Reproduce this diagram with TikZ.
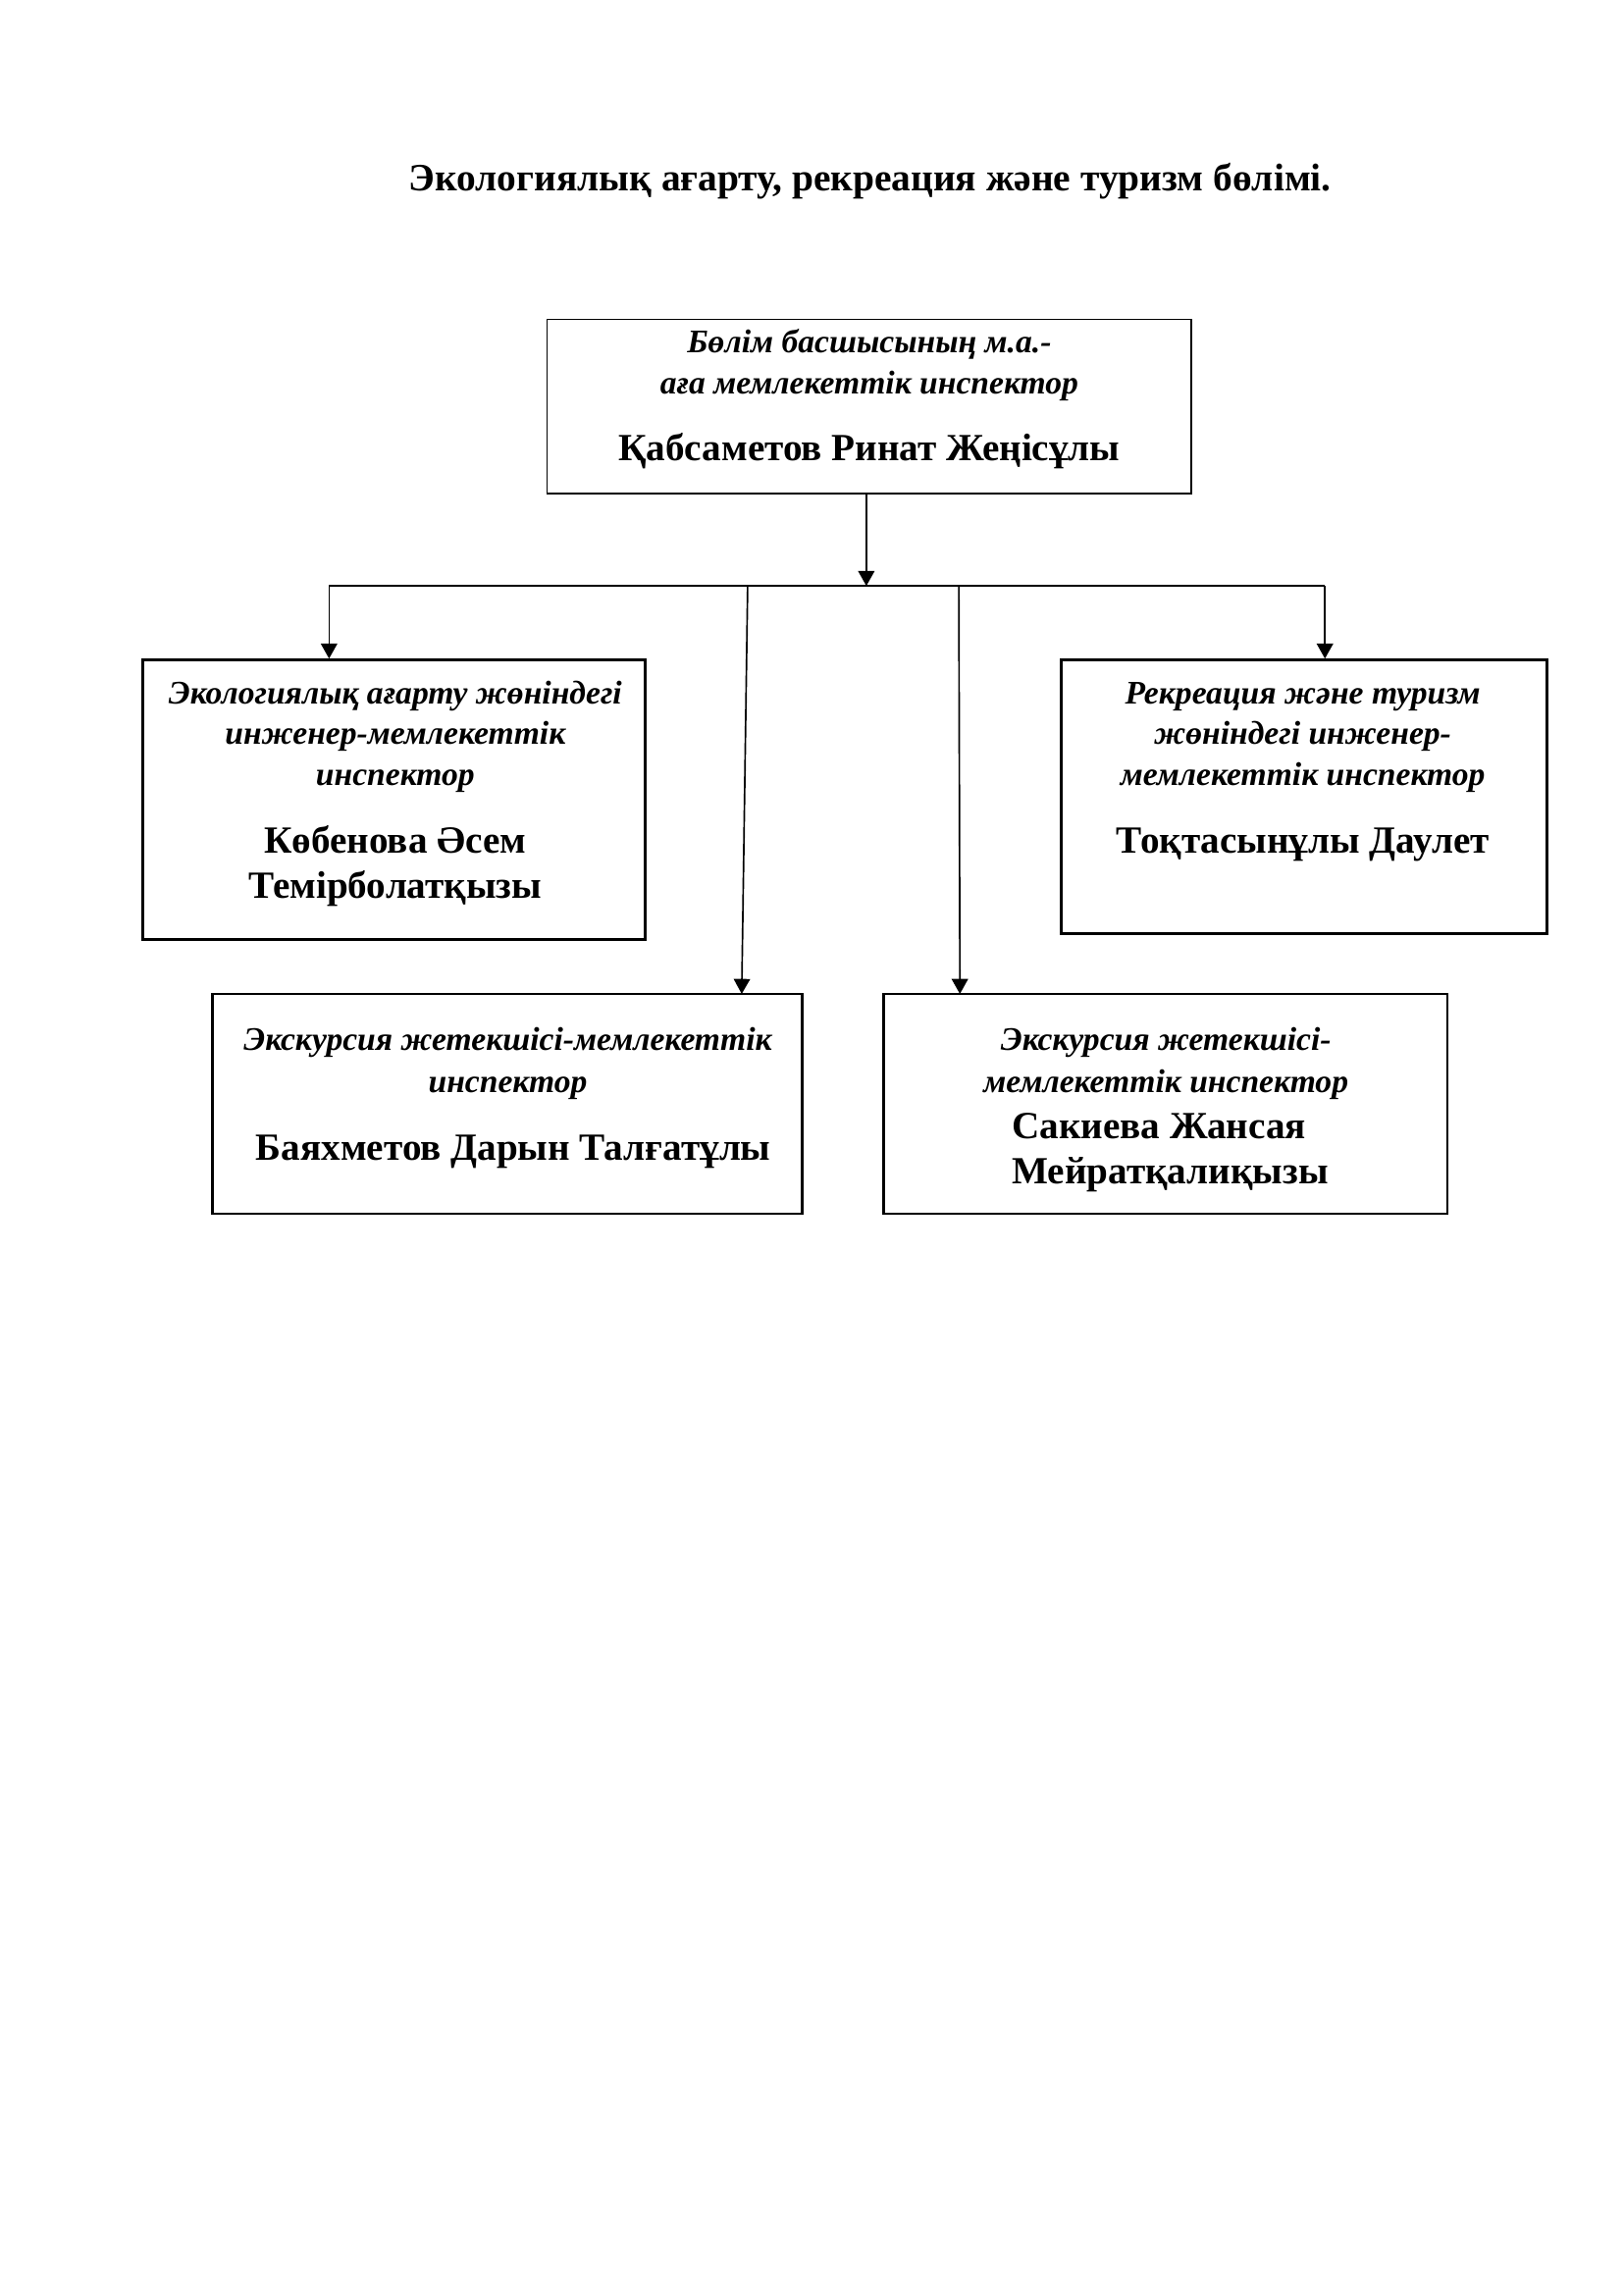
\documentclass[tikz,border=0pt]{standalone}
\usepackage{fontspec}
\setmainfont{Liberation Serif}
\usetikzlibrary{arrows.meta}
\tikzset{
  role/.style={font=\fontsize{12.1}{14}\selectfont\bfseries\itshape, anchor=base, inner sep=0pt},
  who/.style={font=\fontsize{14.1}{16}\selectfont\bfseries, anchor=base, inner sep=0pt},
  box/.style={draw, line width=1pt, inner sep=0pt},
  conn/.style={line width=0.6pt},
  arr/.style={line width=0.6pt, -{Triangle[length=5.5pt,width=6pt]}}
}
\begin{document}
\begin{tikzpicture}[x=0.992pt,y=0.992pt]
\useasboundingbox (0,0) rectangle (600.24,-848.83);
% title
\node[font=\fontsize{14.2}{16}\selectfont\bfseries, anchor=base, inner sep=0pt] (title) at (321.8,-70.4) {Экологиялық ағарту, рекреация және туризм бөлімі.};
% boxes
\node[box, line width=0.6pt, minimum width=236.4pt, minimum height=63.9pt] (b0) at (321.45,-150.3) {};
\node[box, minimum width=184.3pt, minimum height=102.5pt] (b1) at (145.8,-295.75) {};
\node[box, minimum width=178.2pt, minimum height=100.3pt] (b2) at (482.2,-294.65) {};
\node[box, minimum width=216.4pt, minimum height=80.6pt] (b3) at (187.55,-408.25) {};
\node[box, minimum width=206.7pt, minimum height=80.6pt] (b4) at (431.1,-408.25) {};
% texts top
\node[role] (t0a) at (321.5,-130.6) {Бөлім басшысының м.а.-};
\node[role] (t0b) at (321.5,-145.8) {аға мемлекеттік инспектор};
\node[who] (t0c) at (321.5,-170.4) {Қабсаметов Ринат Жеңісұлы};
% left
\node[role] (t1a) at (146.2,-260.3) {Экологиялық ағарту жөніндегі};
\node[role] (t1b) at (146.2,-275.4) {инженер-мемлекеттік};
\node[role] (t1c) at (146.2,-290.5) {инспектор};
\node[who] (t1d) at (146.2,-315.4) {Көбенова Әсем};
\node[who] (t1e) at (146.2,-332.1) {Темірболатқызы};
% right
\node[role] (t2a) at (481.8,-260.3) {Рекреация және туризм};
\node[role] (t2b) at (481.8,-275.4) {жөніндегі инженер-};
\node[role] (t2c) at (481.8,-290.5) {мемлекеттік инспектор};
\node[who] (t2d) at (481.8,-315.4) {Тоқтасынұлы Даулет};
% bottom left
\node[role] (t3a) at (187.8,-388.5) {Экскурсия жетекшісі-мемлекеттік};
\node[role] (t3b) at (187.8,-404.2) {инспектор};
\node[who] (t3c) at (189.9,-429.0) {Баяхметов Дарын Талғатұлы};
% bottom right
\node[role] (t4a) at (431.2,-388.5) {Экскурсия жетекшісі-};
\node[role] (t4b) at (431.2,-404.2) {мемлекеттік инспектор};
\node[who, anchor=base west] (t4c) at (374.1,-421.0) {Сакиева Жансая};
\node[who, anchor=base west] (t4d) at (374.1,-437.9) {Мейратқалиқызы};
% connectors
\coordinate (j0) at (320.4,-216.7);
\coordinate (hl) at (121.7,-216.7);
\coordinate (hr) at (490.0,-216.7);
\coordinate (s1) at (276.5,-216.7);
\coordinate (e1) at (274.3,-367.6);
\coordinate (s2) at (354.6,-216.7);
\coordinate (e2) at (355.0,-367.6);
\draw[arr] (b0.south -| j0) -- (j0);
\draw[conn] (hl) -- (hr);
\draw[arr] (hl) -- (hl |- b1.north);
\draw[arr] (hr) -- (hr |- b2.north);
\draw[arr] (s1) -- (e1);
\draw[arr] (s2) -- (e2);
\end{tikzpicture}
\end{document}
